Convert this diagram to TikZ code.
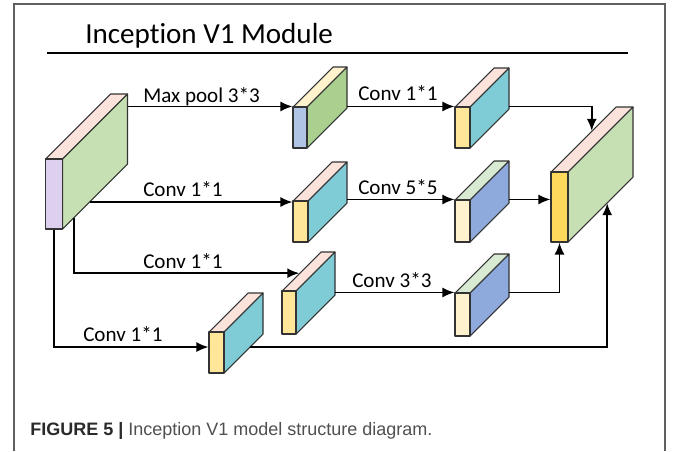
\documentclass[tikz,border=0pt]{standalone}
\usepackage{fontspec}
\setmainfont{Carlito}[Ligatures=NoCommon]
\newfontfamily\capfont{Liberation Sans}
\usetikzlibrary{arrows.meta,fit,calc}
\definecolor{lav}{HTML}{DCD0EE}
\definecolor{pinktop}{HTML}{FBE3DB}
\definecolor{lgreen}{HTML}{C6E0B4}
\definecolor{mblue}{HTML}{B0C4E6}
\definecolor{cream}{HTML}{FFF2CC}
\definecolor{mgreen}{HTML}{A9D08E}
\definecolor{yel}{HTML}{FFE699}
\definecolor{cyanside}{HTML}{7FCCD7}
\definecolor{gtop}{HTML}{D9EAD3}
\definecolor{bside}{HTML}{8EA9DB}
\definecolor{gold}{HTML}{FFD85C}
\definecolor{edgec}{HTML}{333333}
\definecolor{framec}{HTML}{606060}
\definecolor{captxt}{HTML}{505050}
\definecolor{capbold}{HTML}{2A2A2A}
\tikzset{
  edge/.style={draw=edgec, line width=0.8pt, line join=round},
  arr/.style={line width=1.3pt, -{Latex[length=9pt,width=7.5pt]}},
  lbl/.style={anchor=base west, inner sep=0pt, font=\fontsize{15.8}{18}\selectfont},
}
% name, x1, y1, x2, y2, depth, front, top, side
\newcommand{\cuboid}[9]{%
  \filldraw[edge, fill=#8] (#2,#3) -- (#2+#6,#3-#6) -- (#4+#6,#3-#6) -- (#4,#3) -- cycle;
  \filldraw[edge, fill=#9] (#4,#3) -- (#4+#6,#3-#6) -- (#4+#6,#5-#6) -- (#4,#5) -- cycle;
  \node[edge, fill=#7, inner sep=0pt, fit={(#2,#3) (#4,#5)}] (#1) {};
  \coordinate (#1-tl) at (#2+#6,#3-#6);
  \coordinate (#1-bt) at (#4+#6,#3-#6);
  \coordinate (#1-bb) at (#4+#6,#5-#6);
}
\begin{document}
\begin{tikzpicture}[x=0.75pt, y=-0.75pt]
\useasboundingbox (0,0) rectangle (675,451);
\fill[white] (0,0) rectangle (675,451);
% frame
\draw[framec, line width=0.9pt] (14,451) -- (14,4) -- (665,4) -- (665,451);
% title
\node[anchor=base west, inner sep=0pt, font=\fontsize{21.8}{26}\selectfont] (title) at (85,43) {Inception V1 Module};
\draw[line width=1pt] (47,53) -- (628,53);
% blocks
\cuboid{in}{45.5}{159}{62.5}{229}{65}{lav}{pinktop}{lgreen}
\cuboid{mp}{293}{107}{307}{148}{40}{mblue}{cream}{mgreen}
\cuboid{c1a}{455}{107}{470}{148}{39}{yel}{pinktop}{cyanside}
\cuboid{r2}{293}{201}{308}{242}{39}{yel}{pinktop}{cyanside}
\cuboid{c5}{455}{200}{470}{242}{39}{cream}{gtop}{bside}
\cuboid{r3}{282}{291}{296}{334}{39}{yel}{pinktop}{cyanside}
\cuboid{c3}{455}{293}{470}{336}{39}{cream}{gtop}{bside}
\cuboid{r4}{209}{332}{224}{373}{39}{yel}{pinktop}{cyanside}
\cuboid{out}{551}{172}{568}{242}{65}{gold}{pinktop}{lgreen}
% helper points
\coordinate (in-s2) at ($(in.south east)!0.42!(in-bb)$);
\coordinate (in-s3) at ($(in.south east)!0.17!(in-bb)$);
\coordinate (r3-in) at ($(r3.north west)!0.45!(r3-tl)$);
\coordinate (r4-s) at ($(r4.south east)!0.67!(r4-bb)$);
\coordinate (out-top) at ($(out.north west)!0.63!(out-tl)$);
\coordinate (out-bot) at ($(out.south east)!0.6!(out-bb)$);
% connectors
\draw[arr] (in-bt |- mp.north west) -- (mp.north west);
\draw[arr] (mp-bt |- c1a.north west) -- (c1a.north west);
\draw[arr] (c1a-bt |- c1a.north west) -| (out-top);
\draw[arr] (in-s2) -- (r2.north west |- in-s2);
\draw[arr] (r2-bt |- c5.north west) -- (c5.north west);
\draw[arr] (c5-bt |- c5.north west) -- (out.west |- c5.north west);
\draw[arr] (in-s3) |- (r3-in);
\draw[arr] (r3-bt |- c3.north west) -- (c3.north west);
\draw[arr] (c3-bt |- c3.north west) -| (out.south);
\draw[arr] (in.south) |- (r4.west |- r4-s);
\draw[arr] (r4-s) -| (out-bot);
% labels
\node[lbl] (l1) at (143,102) {Max pool 3*3};
\node[lbl] (l2) at (358,100) {Conv 1*1};
\node[lbl] (l3) at (143,196) {Conv 1*1};
\node[lbl] (l4) at (358,194) {Conv 5*5};
\node[lbl] (l5) at (143,268) {Conv 1*1};
\node[lbl] (l6) at (352,287) {Conv 3*3};
\node[lbl] (l7) at (83,341) {Conv 1*1};
% caption
\node[anchor=base west, inner sep=0pt, font=\capfont\fontsize{13.5}{16}\selectfont, text=captxt] (cap) at (30,435)
  {\textbf{\color{capbold}FIGURE 5 |} Inception V1 model structure diagram.};
\end{tikzpicture}
\end{document}
